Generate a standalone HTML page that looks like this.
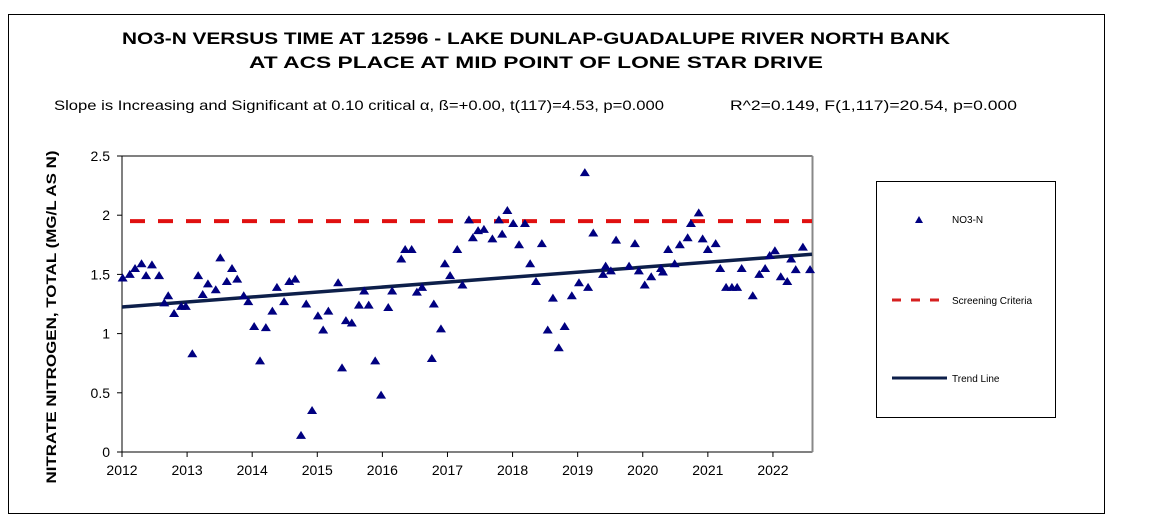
<!DOCTYPE html>
<html><head><meta charset="utf-8"><style>
body{margin:0;background:#fff;}
svg{display:block;font-family:"Liberation Sans",Arial,sans-serif;}
</style></head><body>
<svg id="chart" width="1163" height="531">
<rect x="8.5" y="14.5" width="1096" height="499" fill="#fff" stroke="#000"/>
<text x="536" y="44" font-size="17" font-weight="bold" text-anchor="middle" textLength="828" lengthAdjust="spacingAndGlyphs">NO3-N VERSUS TIME AT 12596 - LAKE DUNLAP-GUADALUPE  RIVER NORTH BANK</text>
<text x="536" y="68" font-size="17" font-weight="bold" text-anchor="middle" textLength="574" lengthAdjust="spacingAndGlyphs">AT ACS PLACE AT MID POINT OF LONE STAR DRIVE</text>
<text x="54" y="110" font-size="14" textLength="610" lengthAdjust="spacingAndGlyphs">Slope is Increasing and Significant at 0.10 critical α, ß=+0.00, t(117)=4.53, p=0.000</text>
<text x="730" y="110" font-size="14" textLength="287" lengthAdjust="spacingAndGlyphs">R^2=0.149,  F(1,117)=20.54, p=0.000</text>
<g id="plot"></g>
<text transform="translate(56,317) rotate(-90)" font-size="14" font-weight="bold" text-anchor="middle" textLength="333" lengthAdjust="spacingAndGlyphs">NITRATE NITROGEN, TOTAL (MG/L AS N)</text>
<rect x="876.5" y="181.5" width="179" height="236" fill="#fff" stroke="#000"/>
<g>
<polygon points="919,216 923,223 915,223" fill="#000080"/>
<text x="952" y="223" font-size="10">NO3-N</text></g>
<g>
<line x1="892" y1="300" x2="946" y2="300" stroke="#d62020" stroke-width="3" stroke-dasharray="9,10"/>
<text x="952" y="304" font-size="10">Screening Criteria</text></g>
<g>
<line x1="892" y1="378" x2="947" y2="378" stroke="#0d1f4a" stroke-width="3"/>
<text x="952" y="382" font-size="10">Trend Line</text></g>
</svg>
<script>
const years=[2012.01,2012.12,2012.20,2012.30,2012.37,2012.46,2012.57,2012.65,2012.71,2012.80,2012.91,2012.98,2013.08,2013.17,2013.24,2013.32,2013.44,2013.51,2013.61,2013.69,2013.77,2013.87,2013.94,2014.03,2014.12,2014.21,2014.31,2014.38,2014.49,2014.57,2014.66,2014.75,2014.83,2014.92,2015.01,2015.09,2015.17,2015.32,2015.38,2015.44,2015.53,2015.64,2015.72,2015.79,2015.89,2015.98,2016.09,2016.15,2016.29,2016.35,2016.45,2016.53,2016.61,2016.76,2016.79,2016.90,2016.96,2017.04,2017.15,2017.23,2017.33,2017.39,2017.47,2017.56,2017.69,2017.79,2017.84,2017.92,2018.01,2018.10,2018.19,2018.27,2018.36,2018.45,2018.54,2018.62,2018.71,2018.80,2018.91,2019.02,2019.11,2019.16,2019.24,2019.39,2019.43,2019.51,2019.59,2019.79,2019.88,2019.94,2020.03,2020.13,2020.28,2020.31,2020.39,2020.49,2020.57,2020.69,2020.74,2020.86,2020.92,2021.00,2021.12,2021.19,2021.28,2021.37,2021.45,2021.52,2021.69,2021.79,2021.88,2021.95,2022.03,2022.12,2022.22,2022.28,2022.35,2022.46,2022.57];
const values=[1.47,1.50,1.55,1.59,1.49,1.58,1.49,1.26,1.32,1.17,1.23,1.23,0.83,1.49,1.33,1.42,1.37,1.64,1.44,1.55,1.46,1.32,1.27,1.06,0.77,1.05,1.19,1.39,1.27,1.44,1.46,0.14,1.25,0.35,1.15,1.03,1.19,1.43,0.71,1.11,1.09,1.24,1.36,1.24,0.77,0.48,1.22,1.36,1.63,1.71,1.71,1.35,1.39,0.79,1.25,1.04,1.59,1.49,1.71,1.41,1.96,1.81,1.87,1.88,1.80,1.96,1.84,2.04,1.93,1.75,1.93,1.59,1.44,1.76,1.03,1.30,0.88,1.06,1.32,1.43,2.36,1.39,1.85,1.50,1.57,1.53,1.79,1.57,1.76,1.53,1.41,1.48,1.55,1.52,1.71,1.59,1.75,1.81,1.93,2.02,1.80,1.71,1.76,1.55,1.39,1.39,1.39,1.55,1.32,1.50,1.55,1.66,1.70,1.48,1.44,1.63,1.54,1.73,1.54];
const xTicks=[2012,2013,2014,2015,2016,2017,2018,2019,2020,2021,2022];
const yTicks=[0,0.5,1,1.5,2,2.5];
const screening=[1.95];
const trendStart=[2012,1.225];
const trendEnd=[2022.6,1.67];
const xMin=2012,xMax=2022.6,yMax=2.5;
const L=122,R=812,T=156,B=452;
const NS='http://www.w3.org/2000/svg';
const g=document.getElementById('plot');
function X(v){return L+(v-xMin)/(xMax-xMin)*(R-L);}
function Y(v){return B-v/yMax*(B-T);}
function mk(t,a){const e=document.createElementNS(NS,t);for(const k in a)e.setAttribute(k,a[k]);g.appendChild(e);return e;}
let e=mk('rect',{x:L,y:T,width:R-L,height:B-T,fill:'none',stroke:'#000'});


e=mk('line',{x1:R+0.5,y1:T,x2:R+0.5,y2:B,stroke:'#888',"stroke-width":2});


xTicks.forEach(t=>{
 let l=mk('line',{x1:X(t),y1:B,x2:X(t),y2:B+5,stroke:'#000'});
 
 
 let s=mk('text',{x:X(t),y:B+23,"font-size":14,"text-anchor":"middle"});s.textContent=t;
 
 
});
yTicks.forEach(t=>{
 let l=mk('line',{x1:L-5,y1:Y(t),x2:L,y2:Y(t),stroke:'#000'});
 
 
 let s=mk('text',{x:L-12,y:Y(t)+5,"font-size":14,"text-anchor":"end"});s.textContent=t;
 
 
});
e=mk('line',{x1:L,y1:Y(screening[0]),x2:R,y2:Y(screening[0]),stroke:'#e01010',"stroke-width":4,"stroke-dasharray":"15,13","stroke-dashoffset":"-8"});


e=mk('line',{x1:X(trendStart[0]),y1:Y(trendStart[1]),x2:X(trendEnd[0]),y2:Y(trendEnd[1]),stroke:'#0d1f4a',"stroke-width":3.5});


years.forEach((yr,i)=>{
 const cx=X(yr),cy=Y(values[i]);
 const p=mk('polygon',{points:`${cx},${cy-4.5} ${cx+5},${cy+3.5} ${cx-5},${cy+3.5}`,fill:'#000080'});
 
 
});
</script>
</body></html>
